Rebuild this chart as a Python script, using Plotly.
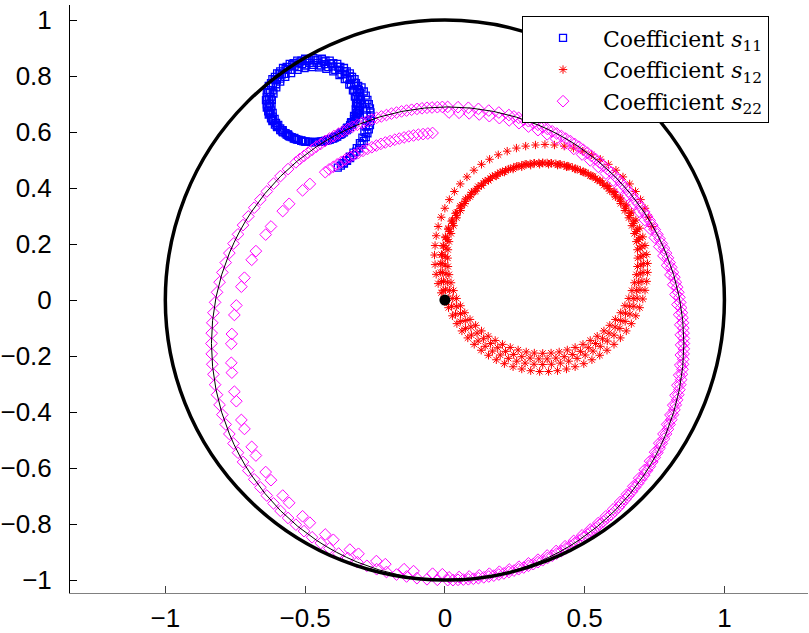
import plotly.graph_objects as go

# ---- s11 (blue squares): nested loops plus the outgoing tail
s11_loop1 = [(-0.300, 0.714), (-0.303, 0.740), (-0.310, 0.765), (-0.323, 0.789), (-0.340, 0.810), (-0.361, 0.829),
             (-0.385, 0.844), (-0.412, 0.855), (-0.440, 0.862), (-0.470, 0.864), (-0.500, 0.862), (-0.528, 0.855),
             (-0.555, 0.844), (-0.579, 0.829), (-0.600, 0.810), (-0.617, 0.789), (-0.630, 0.765), (-0.637, 0.740),
             (-0.640, 0.714), (-0.637, 0.688), (-0.630, 0.663), (-0.617, 0.639), (-0.600, 0.618), (-0.579, 0.599),
             (-0.555, 0.584), (-0.528, 0.573), (-0.500, 0.566), (-0.470, 0.564), (-0.440, 0.566), (-0.412, 0.573),
             (-0.385, 0.584), (-0.361, 0.599), (-0.340, 0.618), (-0.323, 0.639), (-0.310, 0.663), (-0.303, 0.688)]
s11_loop2 = [(-0.311, 0.718), (-0.315, 0.743), (-0.325, 0.766), (-0.339, 0.787), (-0.357, 0.806), (-0.378, 0.822),
             (-0.402, 0.835), (-0.429, 0.843), (-0.456, 0.847), (-0.484, 0.847), (-0.511, 0.843), (-0.538, 0.835),
             (-0.562, 0.822), (-0.583, 0.806), (-0.601, 0.787), (-0.615, 0.766), (-0.625, 0.743), (-0.629, 0.718),
             (-0.629, 0.694), (-0.625, 0.669), (-0.615, 0.646), (-0.601, 0.625), (-0.583, 0.606), (-0.562, 0.590),
             (-0.538, 0.577), (-0.511, 0.569), (-0.484, 0.565), (-0.456, 0.565), (-0.429, 0.569), (-0.402, 0.577),
             (-0.378, 0.590), (-0.357, 0.606), (-0.339, 0.625), (-0.325, 0.646), (-0.315, 0.669), (-0.311, 0.694)]
s11_loop3 = [(-0.318, 0.704), (-0.322, 0.727), (-0.329, 0.749), (-0.342, 0.770), (-0.358, 0.789), (-0.377, 0.804),
             (-0.399, 0.817), (-0.424, 0.826), (-0.449, 0.831), (-0.476, 0.832), (-0.502, 0.829), (-0.527, 0.822),
             (-0.550, 0.811), (-0.571, 0.797), (-0.589, 0.780), (-0.603, 0.760), (-0.613, 0.738), (-0.619, 0.715),
             (-0.620, 0.692), (-0.616, 0.669), (-0.609, 0.647), (-0.596, 0.626), (-0.580, 0.607), (-0.561, 0.592),
             (-0.539, 0.579), (-0.514, 0.570), (-0.489, 0.565), (-0.462, 0.564), (-0.436, 0.567), (-0.411, 0.574),
             (-0.388, 0.585), (-0.367, 0.599), (-0.349, 0.616), (-0.335, 0.636), (-0.325, 0.658), (-0.319, 0.681)]
s11_loop4 = [(-0.306, 0.729), (-0.313, 0.754), (-0.324, 0.777), (-0.339, 0.799), (-0.359, 0.818), (-0.381, 0.833),
             (-0.407, 0.845), (-0.434, 0.853), (-0.463, 0.856), (-0.492, 0.855), (-0.520, 0.849), (-0.546, 0.840),
             (-0.570, 0.826), (-0.592, 0.809), (-0.609, 0.788), (-0.622, 0.766), (-0.631, 0.742), (-0.635, 0.716),
             (-0.634, 0.691), (-0.627, 0.666), (-0.616, 0.643), (-0.601, 0.621), (-0.581, 0.602), (-0.559, 0.587),
             (-0.533, 0.575), (-0.506, 0.567), (-0.477, 0.564), (-0.448, 0.565), (-0.420, 0.571), (-0.394, 0.580),
             (-0.370, 0.594), (-0.348, 0.611), (-0.331, 0.632), (-0.318, 0.654), (-0.309, 0.678), (-0.305, 0.704)]
s11_loop5 = [(-0.303, 0.725), (-0.308, 0.750), (-0.318, 0.775), (-0.332, 0.797), (-0.351, 0.817), (-0.374, 0.833),
             (-0.399, 0.846), (-0.427, 0.855), (-0.455, 0.859), (-0.485, 0.859), (-0.513, 0.855), (-0.541, 0.846),
             (-0.566, 0.833), (-0.589, 0.817), (-0.608, 0.797), (-0.622, 0.775), (-0.632, 0.750), (-0.637, 0.725),
             (-0.637, 0.699), (-0.632, 0.674), (-0.622, 0.649), (-0.608, 0.627), (-0.589, 0.607), (-0.566, 0.591),
             (-0.541, 0.578), (-0.513, 0.569), (-0.485, 0.565), (-0.455, 0.565), (-0.427, 0.569), (-0.399, 0.578),
             (-0.374, 0.591), (-0.351, 0.607), (-0.332, 0.627), (-0.318, 0.649), (-0.308, 0.674), (-0.303, 0.699)]
s11_loop6 = [(-0.315, 0.702), (-0.317, 0.726), (-0.324, 0.749), (-0.336, 0.771), (-0.351, 0.791), (-0.370, 0.808),
             (-0.392, 0.822), (-0.417, 0.832), (-0.443, 0.838), (-0.470, 0.840), (-0.497, 0.838), (-0.523, 0.832),
             (-0.548, 0.822), (-0.570, 0.808), (-0.589, 0.791), (-0.604, 0.771), (-0.616, 0.749), (-0.623, 0.726),
             (-0.625, 0.702), (-0.623, 0.678), (-0.616, 0.655), (-0.604, 0.633), (-0.589, 0.613), (-0.570, 0.596),
             (-0.548, 0.582), (-0.523, 0.572), (-0.497, 0.566), (-0.470, 0.564), (-0.443, 0.566), (-0.417, 0.572),
             (-0.392, 0.582), (-0.370, 0.596), (-0.351, 0.613), (-0.336, 0.633), (-0.324, 0.655), (-0.317, 0.678)]
s11_tail = [(-0.298, 0.760), (-0.290, 0.745), (-0.283, 0.730), (-0.277, 0.715), (-0.272, 0.700), (-0.268, 0.685),
            (-0.266, 0.670), (-0.265, 0.655), (-0.266, 0.640), (-0.268, 0.625), (-0.272, 0.610), (-0.277, 0.596),
            (-0.283, 0.582), (-0.290, 0.568), (-0.298, 0.555), (-0.307, 0.542), (-0.317, 0.530), (-0.328, 0.518),
            (-0.339, 0.507), (-0.350, 0.497), (-0.361, 0.488), (-0.372, 0.480), (-0.383, 0.473),
            (-0.285, 0.700), (-0.281, 0.680), (-0.279, 0.660), (-0.280, 0.640), (-0.283, 0.620), (-0.288, 0.600),
            (-0.295, 0.580), (-0.304, 0.561), (-0.315, 0.543), (-0.327, 0.527), (-0.340, 0.512), (-0.353, 0.500),
            (-0.366, 0.489)]

# ---- s12 (red asterisks): outer arc leaving the origin, then four loops (two halves each)
s12_arc = [(0.000, -0.006), (-0.013, 0.026), (-0.024, 0.059), (-0.031, 0.092), (-0.035, 0.127), (-0.037, 0.161),
           (-0.035, 0.195), (-0.031, 0.230), (-0.024, 0.263), (-0.013, 0.296), (0.000, 0.328), (0.016, 0.359),
           (0.034, 0.388), (0.055, 0.415), (0.079, 0.440), (0.104, 0.464), (0.131, 0.485), (0.160, 0.503),
           (0.191, 0.519), (0.223, 0.532), (0.256, 0.543), (0.289, 0.550), (0.324, 0.554), (0.358, 0.556),
           (0.392, 0.554), (0.427, 0.550), (0.460, 0.543), (0.493, 0.532), (0.525, 0.519), (0.556, 0.503),
           (0.585, 0.485), (0.612, 0.464), (0.637, 0.440), (0.661, 0.415), (0.682, 0.388), (0.700, 0.359),
           (0.716, 0.328), (0.729, 0.296), (0.740, 0.263)]
s12_loop1 = [(0.710, 0.130), (0.705, 0.193), (0.688, 0.253), (0.662, 0.310), (0.626, 0.361), (0.581, 0.406),
             (0.530, 0.442), (0.473, 0.468), (0.413, 0.485), (0.350, 0.490), (0.287, 0.485), (0.227, 0.468),
             (0.170, 0.442), (0.119, 0.406), (0.074, 0.361), (0.038, 0.310), (0.012, 0.253), (-0.005, 0.193),
             (-0.010, 0.130), (-0.005, 0.067), (0.012, 0.007), (0.038, -0.050), (0.074, -0.101), (0.119, -0.146),
             (0.170, -0.182), (0.227, -0.208), (0.287, -0.225), (0.350, -0.230), (0.413, -0.225), (0.473, -0.208),
             (0.530, -0.182), (0.581, -0.146), (0.626, -0.101), (0.662, -0.050), (0.688, 0.007), (0.705, 0.067)]
s12_loop1b = [(0.709, 0.161), (0.698, 0.223), (0.676, 0.282), (0.645, 0.336), (0.605, 0.385), (0.556, 0.425),
              (0.502, 0.456), (0.443, 0.478), (0.381, 0.489), (0.319, 0.489), (0.257, 0.478), (0.198, 0.456),
              (0.144, 0.425), (0.095, 0.385), (0.055, 0.336), (0.024, 0.282), (0.002, 0.223), (-0.009, 0.161),
              (-0.009, 0.099), (0.002, 0.037), (0.024, -0.022), (0.055, -0.076), (0.095, -0.125), (0.144, -0.165),
              (0.198, -0.196), (0.257, -0.218), (0.319, -0.229), (0.381, -0.229), (0.443, -0.218), (0.502, -0.196),
              (0.556, -0.165), (0.605, -0.125), (0.645, -0.076), (0.676, -0.022), (0.698, 0.037), (0.709, 0.099)]
s12_loop2 = [(0.689, 0.180), (0.678, 0.238), (0.658, 0.294), (0.629, 0.345), (0.590, 0.390), (0.545, 0.429),
             (0.494, 0.458), (0.438, 0.478), (0.380, 0.489), (0.320, 0.489), (0.262, 0.478), (0.206, 0.458),
             (0.155, 0.429), (0.110, 0.390), (0.071, 0.345), (0.042, 0.294), (0.022, 0.238), (0.011, 0.180),
             (0.011, 0.120), (0.022, 0.062), (0.042, 0.006), (0.071, -0.045), (0.110, -0.090), (0.155, -0.129),
             (0.206, -0.158), (0.262, -0.178), (0.320, -0.189), (0.380, -0.189), (0.438, -0.178), (0.494, -0.158),
             (0.545, -0.129), (0.590, -0.090), (0.629, -0.045), (0.658, 0.006), (0.678, 0.062), (0.689, 0.120)]
s12_loop2b = [(0.690, 0.150), (0.685, 0.209), (0.669, 0.266), (0.644, 0.320), (0.610, 0.369), (0.569, 0.410),
              (0.520, 0.444), (0.466, 0.469), (0.409, 0.485), (0.350, 0.490), (0.291, 0.485), (0.234, 0.469),
              (0.180, 0.444), (0.131, 0.410), (0.090, 0.369), (0.056, 0.320), (0.031, 0.266), (0.015, 0.209),
              (0.010, 0.150), (0.015, 0.091), (0.031, 0.034), (0.056, -0.020), (0.090, -0.069), (0.131, -0.110),
              (0.180, -0.144), (0.234, -0.169), (0.291, -0.185), (0.350, -0.190), (0.409, -0.185), (0.466, -0.169),
              (0.520, -0.144), (0.569, -0.110), (0.610, -0.069), (0.644, -0.020), (0.669, 0.034), (0.685, 0.091)]
s12_loop3 = [(0.725, 0.131), (0.716, 0.195), (0.697, 0.257), (0.667, 0.314), (0.628, 0.365), (0.580, 0.409),
             (0.526, 0.443), (0.466, 0.468), (0.403, 0.482), (0.339, 0.485), (0.275, 0.476), (0.213, 0.457),
             (0.156, 0.427), (0.105, 0.388), (0.061, 0.340), (0.027, 0.286), (0.002, 0.226), (-0.012, 0.163),
             (-0.015, 0.099), (-0.006, 0.035), (0.013, -0.027), (0.043, -0.084), (0.082, -0.135), (0.130, -0.179),
             (0.184, -0.213), (0.244, -0.238), (0.307, -0.252), (0.371, -0.255), (0.435, -0.246), (0.497, -0.227),
             (0.554, -0.197), (0.605, -0.158), (0.649, -0.110), (0.683, -0.056), (0.708, 0.004), (0.722, 0.067)]
s12_loop3b = [(0.722, 0.163), (0.708, 0.226), (0.683, 0.286), (0.649, 0.340), (0.605, 0.388), (0.554, 0.427),
              (0.497, 0.457), (0.435, 0.476), (0.371, 0.485), (0.307, 0.482), (0.244, 0.468), (0.184, 0.443),
              (0.130, 0.409), (0.082, 0.365), (0.043, 0.314), (0.013, 0.257), (-0.006, 0.195), (-0.015, 0.131),
              (-0.012, 0.067), (0.002, 0.004), (0.027, -0.056), (0.061, -0.110), (0.105, -0.158), (0.156, -0.197),
              (0.213, -0.227), (0.275, -0.246), (0.339, -0.255), (0.403, -0.252), (0.466, -0.238), (0.526, -0.213),
              (0.580, -0.179), (0.628, -0.135), (0.667, -0.084), (0.697, -0.027), (0.716, 0.035), (0.725, 0.099)]
s12_loop4 = [(0.698, 0.186), (0.685, 0.245), (0.661, 0.302), (0.629, 0.353), (0.587, 0.398), (0.539, 0.435),
             (0.485, 0.463), (0.427, 0.482), (0.366, 0.490), (0.305, 0.487), (0.246, 0.474), (0.189, 0.450),
             (0.138, 0.418), (0.093, 0.376), (0.056, 0.328), (0.028, 0.274), (0.009, 0.216), (0.001, 0.155),
             (0.004, 0.094), (0.017, 0.035), (0.041, -0.022), (0.073, -0.073), (0.115, -0.118), (0.163, -0.155),
             (0.217, -0.183), (0.275, -0.202), (0.336, -0.210), (0.397, -0.207), (0.456, -0.194), (0.513, -0.170),
             (0.564, -0.138), (0.609, -0.096), (0.646, -0.047), (0.674, 0.006), (0.693, 0.064), (0.701, 0.125)]
s12_loop4b = [(0.701, 0.155), (0.693, 0.216), (0.674, 0.274), (0.646, 0.328), (0.609, 0.376), (0.564, 0.418),
              (0.513, 0.450), (0.456, 0.474), (0.397, 0.487), (0.336, 0.490), (0.275, 0.482), (0.217, 0.463),
              (0.163, 0.435), (0.115, 0.398), (0.073, 0.353), (0.041, 0.302), (0.017, 0.245), (0.004, 0.186),
              (0.001, 0.125), (0.009, 0.064), (0.028, 0.006), (0.056, -0.048), (0.093, -0.096), (0.138, -0.138),
              (0.189, -0.170), (0.246, -0.194), (0.305, -0.207), (0.366, -0.210), (0.427, -0.202), (0.485, -0.183),
              (0.539, -0.155), (0.587, -0.118), (0.629, -0.073), (0.661, -0.022), (0.685, 0.035), (0.699, 0.094)]

# ---- s22 (magenta diamonds): inner turn, then two nearly coincident outer turns
s22_inner = [(-0.044, 0.597), (-0.061, 0.595), (-0.078, 0.593), (-0.095, 0.591), (-0.112, 0.588), (-0.129, 0.585),
             (-0.146, 0.581), (-0.163, 0.577), (-0.179, 0.573), (-0.196, 0.568), (-0.213, 0.563), (-0.229, 0.558),
             (-0.245, 0.552), (-0.261, 0.546), (-0.277, 0.540), (-0.293, 0.533), (-0.309, 0.526), (-0.325, 0.519),
             (-0.340, 0.511), (-0.355, 0.503), (-0.370, 0.494), (-0.385, 0.485), (-0.399, 0.476), (-0.414, 0.467),
             (-0.428, 0.457), (-0.483, 0.415), (-0.509, 0.392), (-0.557, 0.344), (-0.580, 0.318), (-0.622, 0.263),
             (-0.641, 0.234), (-0.676, 0.175), (-0.691, 0.144), (-0.717, 0.080), (-0.728, 0.048), (-0.746, -0.019),
             (-0.753, -0.053), (-0.762, -0.121), (-0.764, -0.156), (-0.764, -0.224), (-0.762, -0.259), (-0.753, -0.327),
             (-0.746, -0.361), (-0.728, -0.428), (-0.717, -0.460), (-0.691, -0.524), (-0.676, -0.555), (-0.641, -0.614),
             (-0.622, -0.643), (-0.580, -0.698), (-0.557, -0.724), (-0.509, -0.772), (-0.483, -0.795), (-0.428, -0.837),
             (-0.399, -0.856), (-0.340, -0.891), (-0.309, -0.906), (-0.245, -0.932), (-0.213, -0.943), (-0.146, -0.961),
             (-0.112, -0.968), (-0.044, -0.977), (-0.009, -0.979)]
s22_turn1 = [(0.015, -0.990), (0.051, -0.989), (0.087, -0.987), (0.123, -0.983), (0.159, -0.977), (0.195, -0.970),
             (0.230, -0.962), (0.265, -0.952), (0.299, -0.940), (0.333, -0.927), (0.366, -0.912), (0.398, -0.896),
             (0.430, -0.879), (0.461, -0.860), (0.491, -0.840), (0.520, -0.819), (0.549, -0.796), (0.576, -0.772),
             (0.602, -0.747), (0.627, -0.721), (0.651, -0.694), (0.674, -0.665), (0.695, -0.636), (0.715, -0.606),
             (0.734, -0.575), (0.752, -0.543), (0.767, -0.511), (0.782, -0.478), (0.795, -0.444), (0.807, -0.410),
             (0.817, -0.375), (0.825, -0.340), (0.832, -0.304), (0.838, -0.268), (0.842, -0.232), (0.844, -0.196),
             (0.845, -0.160), (0.844, -0.124), (0.842, -0.088), (0.838, -0.052), (0.832, -0.016), (0.825, 0.020),
             (0.817, 0.055), (0.807, 0.090), (0.795, 0.124), (0.782, 0.158), (0.767, 0.191), (0.751, 0.223),
             (0.734, 0.255), (0.715, 0.286), (0.695, 0.316), (0.674, 0.345), (0.651, 0.374), (0.627, 0.401),
             (0.602, 0.427), (0.576, 0.452), (0.549, 0.476), (0.520, 0.499), (0.491, 0.520), (0.461, 0.540),
             (0.430, 0.559), (0.398, 0.576), (0.366, 0.592), (0.333, 0.607), (0.299, 0.620), (0.265, 0.632),
             (0.230, 0.642), (0.195, 0.650), (0.159, 0.657), (0.123, 0.663), (0.087, 0.667), (0.051, 0.669),
             (0.015, 0.670)]
s22_turn2_top = [(0.010, 0.690), (-0.009, 0.690), (-0.027, 0.689), (-0.046, 0.688), (-0.064, 0.687), (-0.082, 0.685),
                 (-0.100, 0.683), (-0.119, 0.680), (-0.137, 0.677), (-0.155, 0.674), (-0.173, 0.670), (-0.191, 0.666),
                 (-0.209, 0.661), (-0.227, 0.656), (-0.244, 0.651), (-0.262, 0.645), (-0.279, 0.639), (-0.296, 0.633),
                 (-0.313, 0.626), (-0.330, 0.619), (-0.347, 0.611), (-0.364, 0.603), (-0.380, 0.595), (-0.397, 0.586),
                 (-0.413, 0.577), (-0.429, 0.568), (-0.444, 0.558), (-0.460, 0.548), (-0.475, 0.537), (-0.490, 0.526),
                 (-0.504, 0.515), (-0.519, 0.504), (-0.533, 0.492)]
s22_turn2_left = [(-0.561, 0.468), (-0.588, 0.443), (-0.613, 0.416), (-0.637, 0.388), (-0.660, 0.359), (-0.682, 0.330),
                  (-0.703, 0.299), (-0.722, 0.268), (-0.740, 0.235), (-0.756, 0.202), (-0.771, 0.168), (-0.784, 0.134),
                  (-0.796, 0.099), (-0.806, 0.064), (-0.815, 0.028), (-0.822, -0.008), (-0.828, -0.045), (-0.832, -0.081),
                  (-0.834, -0.118), (-0.835, -0.155), (-0.834, -0.192), (-0.832, -0.229), (-0.828, -0.265), (-0.822, -0.302),
                  (-0.815, -0.338), (-0.806, -0.374), (-0.796, -0.409), (-0.784, -0.444), (-0.771, -0.478), (-0.756, -0.512),
                  (-0.740, -0.545), (-0.722, -0.578), (-0.703, -0.609), (-0.682, -0.640), (-0.660, -0.669), (-0.637, -0.698),
                  (-0.613, -0.726), (-0.588, -0.753), (-0.561, -0.778), (-0.533, -0.802), (-0.504, -0.825), (-0.475, -0.847),
                  (-0.444, -0.868), (-0.413, -0.887), (-0.380, -0.905), (-0.347, -0.921), (-0.313, -0.936), (-0.279, -0.949),
                  (-0.244, -0.961), (-0.209, -0.971), (-0.173, -0.980), (-0.137, -0.987), (-0.100, -0.993), (-0.064, -0.997),
                  (-0.027, -0.999)]
s22_turn2_right = [(0.010, -1.000), (0.029, -1.000), (0.047, -0.999), (0.066, -0.998), (0.084, -0.997), (0.102, -0.995),
                   (0.120, -0.993), (0.139, -0.990), (0.157, -0.987), (0.175, -0.984), (0.193, -0.980), (0.211, -0.976),
                   (0.229, -0.971), (0.247, -0.966), (0.264, -0.961), (0.282, -0.955), (0.299, -0.949), (0.316, -0.943),
                   (0.333, -0.936), (0.350, -0.929), (0.367, -0.921), (0.384, -0.913), (0.400, -0.905), (0.417, -0.896),
                   (0.433, -0.887), (0.449, -0.878), (0.464, -0.868), (0.480, -0.858), (0.495, -0.847), (0.510, -0.836),
                   (0.524, -0.825), (0.539, -0.814), (0.553, -0.802), (0.567, -0.790), (0.581, -0.778), (0.595, -0.766),
                   (0.608, -0.753), (0.621, -0.740), (0.633, -0.726), (0.645, -0.712), (0.657, -0.698), (0.669, -0.684),
                   (0.680, -0.669), (0.691, -0.655), (0.702, -0.640), (0.713, -0.625), (0.723, -0.609), (0.733, -0.594),
                   (0.742, -0.578), (0.751, -0.562), (0.760, -0.545), (0.768, -0.529), (0.776, -0.512), (0.784, -0.495),
                   (0.791, -0.478), (0.798, -0.461), (0.804, -0.444), (0.810, -0.427), (0.816, -0.409), (0.821, -0.392),
                   (0.826, -0.374), (0.831, -0.356), (0.835, -0.338), (0.839, -0.320), (0.842, -0.302), (0.845, -0.284),
                   (0.848, -0.265), (0.850, -0.247), (0.852, -0.229), (0.853, -0.211), (0.854, -0.192), (0.855, -0.174),
                   (0.855, -0.155), (0.855, -0.137), (0.854, -0.118), (0.853, -0.100), (0.852, -0.081), (0.850, -0.063),
                   (0.848, -0.045), (0.845, -0.027), (0.842, -0.008), (0.839, 0.010), (0.835, 0.028), (0.831, 0.046),
                   (0.826, 0.064), (0.821, 0.082), (0.816, 0.099), (0.810, 0.117), (0.804, 0.134), (0.798, 0.151),
                   (0.791, 0.168), (0.784, 0.185), (0.776, 0.202), (0.768, 0.219), (0.760, 0.235), (0.751, 0.252),
                   (0.742, 0.268), (0.733, 0.284), (0.723, 0.299), (0.713, 0.315), (0.702, 0.330), (0.691, 0.345),
                   (0.680, 0.359), (0.669, 0.374), (0.657, 0.388), (0.645, 0.402), (0.633, 0.416), (0.621, 0.430),
                   (0.608, 0.443), (0.595, 0.456), (0.581, 0.468), (0.567, 0.480), (0.553, 0.492), (0.539, 0.504),
                   (0.524, 0.515), (0.510, 0.526), (0.495, 0.537), (0.480, 0.548), (0.464, 0.558), (0.449, 0.568),
                   (0.433, 0.577), (0.417, 0.586), (0.400, 0.595), (0.384, 0.603), (0.367, 0.611), (0.350, 0.619),
                   (0.333, 0.626), (0.316, 0.633), (0.299, 0.639), (0.282, 0.645), (0.264, 0.651), (0.247, 0.656),
                   (0.229, 0.661), (0.193, 0.670), (0.157, 0.677), (0.120, 0.683), (0.084, 0.687), (0.047, 0.689)]

start_point = [(0.0, 0.0)]

# reference circles: (centre x, centre y, radius)
unit_circle = (0.0, 0.0, 1.0)
outer_turn_circle = (0.01, -0.155, 0.845)

x_ticks = [-1, -0.5, 0, 0.5, 1]
x_tick_text = ["\u22121", "\u22120.5", "0", "0.5", "1"]
y_ticks = [-1, -0.8, -0.6, -0.4, -0.2, 0, 0.2, 0.4, 0.6, 0.8, 1]
y_tick_text = ["\u22121", "\u22120.8", "\u22120.6", "\u22120.4", "\u22120.2", "0", "0.2", "0.4", "0.6", "0.8", "1"]


def xs(*parts):
    return [p[0] for part in parts for p in part]


def ys(*parts):
    return [p[1] for part in parts for p in part]


s11 = (s11_loop1, s11_loop2, s11_loop3, s11_loop4, s11_loop5, s11_loop6, s11_tail)
s12 = (s12_arc, s12_loop1, s12_loop1b, s12_loop2, s12_loop2b, s12_loop3, s12_loop3b, s12_loop4, s12_loop4b)
s22 = (s22_inner, s22_turn1, s22_turn2_top, s22_turn2_left, s22_turn2_right)

fig = go.Figure()
fig.add_trace(go.Scatter(
    x=xs(*s11), y=ys(*s11), mode='markers', name='Coefficient <i>s</i><sub>11</sub>',
    marker=dict(symbol='square-open', size=7, color='#0000ff', line=dict(width=1.3, color='#0000ff'))))
fig.add_trace(go.Scatter(
    x=xs(*s12), y=ys(*s12), mode='markers', name='Coefficient <i>s</i><sub>12</sub>',
    marker=dict(symbol='asterisk-open', size=7, color='#ff0000', line=dict(width=1, color='#ff0000'))))
fig.add_trace(go.Scatter(
    x=xs(*s22), y=ys(*s22), mode='markers', name='Coefficient <i>s</i><sub>22</sub>',
    marker=dict(symbol='diamond-open', size=9, color='#ff00ff', line=dict(width=1, color='#ff00ff'))))
fig.add_trace(go.Scatter(
    x=xs(start_point), y=ys(start_point), mode='markers', showlegend=False,
    marker=dict(symbol='circle', size=11, color='black')))

for (cx, cy, r), w in [(unit_circle, 3.5), (outer_turn_circle, 1)]:
    fig.add_shape(type='circle', xref='x', yref='y', x0=cx - r, y0=cy - r, x1=cx + r, y1=cy + r,
                  line=dict(color='black', width=w), layer='above')

tickfont = dict(family='Liberation Sans, Arial, sans-serif', size=26, color='black')
fig.update_layout(
    width=809, height=633,
    margin=dict(l=70, r=1, t=5, b=40, autoexpand=False),
    paper_bgcolor='white', plot_bgcolor='white',
    showlegend=True,
    legend=dict(x=0.6125, xanchor='left', y=0.981, yanchor='top',
                bgcolor='white', bordercolor='black', borderwidth=1,
                font=dict(family='DejaVu Serif, serif', size=22, color='black'),
                itemwidth=70, tracegroupgap=0),
)
fig.update_xaxes(range=[-1.341, 1.299], showgrid=False, zeroline=False, automargin=False,
                 showline=True, linecolor='#808080', linewidth=1,
                 ticks='inside', ticklen=7, tickcolor='#404040', ticklabelstandoff=2,
                 tickvals=x_ticks, ticktext=x_tick_text, tickfont=tickfont)
fig.update_yaxes(range=[-1.046, 1.054], showgrid=False, zeroline=False, automargin=False,
                 showline=True, linecolor='black', linewidth=1,
                 ticks='inside', ticklen=7, tickcolor='black', ticklabelstandoff=12,
                 tickvals=y_ticks, ticktext=y_tick_text, tickfont=tickfont)

# drop the browser's default 8 px body margin so the figure sits at the page corner
fig.write_html("out.html", config=dict(displayModeBar=False),
               post_script="document.body.style.margin = '0';")
